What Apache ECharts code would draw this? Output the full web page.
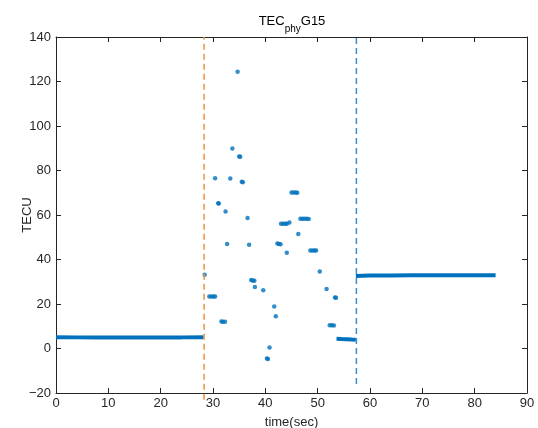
<!DOCTYPE html>
<html>
<head>
<meta charset="utf-8">
<script src="https://cdn.jsdelivr.net/npm/echarts@6/dist/echarts.min.js"></script>
<style>html,body{margin:0;padding:0;background:#fff;}#c{width:538px;height:428px;}</style>
</head>
<body>
<div id="c"></div>
<script>
// x ticks / y ticks
var xTicks = [0, 10, 20, 30, 40, 50, 60, 70, 80, 90];
var yTicks = [-20, 0, 20, 40, 60, 80, 100, 120, 140];

// Baseline before first event (time, TECU)
var preT = [0, 4, 8, 12, 16, 20, 24, 28.2];
var preV = [5.1, 5.0, 4.9, 4.9, 4.9, 5.0, 5.0, 5.1];

// Baseline after second event
var postT = [57.3, 60, 64, 68, 72, 76, 80, 84.0];
var postV = [32.6, 32.8, 32.8, 32.9, 32.9, 32.9, 32.9, 32.9];

// Short steady run just before second event
var runT = [53.6, 54.5, 55.5, 56.5, 57.3];
var runV = [4.4, 4.3, 4.2, 4.0, 3.9];

// Scattered samples between the two events
var scatT = [28.4, 29.3, 29.7, 30.1, 30.4, 30.4, 31.0, 31.1, 31.6, 31.9, 32.3, 32.4, 32.7,
             33.3, 33.7, 34.7, 35.0, 35.2, 35.5, 35.7, 36.6, 36.9, 37.3, 37.6, 37.9, 38.0,
             39.6, 40.3, 40.5, 40.8, 41.7, 42.0, 42.3, 42.6, 42.9, 43.0, 43.4, 43.8, 44.1,
             44.1, 44.6, 45.0, 45.4, 45.8, 46.1, 46.3, 46.7, 47.1, 47.5, 47.9, 48.3, 48.6,
             49.0, 49.4, 49.7, 50.4, 51.7, 52.3, 52.7, 53.1, 53.3, 53.5];
var scatV = [33.1, 23.4, 23.4, 23.4, 23.4, 76.5, 65.3, 65.2, 12.1, 12.0, 12.0, 61.6, 47.0,
             76.4, 89.9, 124.4, 86.3, 86.2, 74.9, 74.7, 58.7, 46.6, 30.8, 30.6, 30.4, 27.6,
             26.2, -4.5, -4.7, 0.4, 18.9, 14.5, 47.2, 47.0, 46.8, 56.1, 56.1, 56.1, 56.1,
             43.0, 56.6, 70.1, 70.1, 70.1, 70.0, 51.5, 58.3, 58.3, 58.3, 58.3, 58.2, 44.0,
             44.0, 44.0, 44.0, 34.6, 26.7, 10.5, 10.4, 10.3, 22.9, 22.8];

// Event markers (dashed vertical lines)
var event1 = {t: 28.3, from: -23, to: 140};
var event2 = {t: 57.4, from: -16, to: 140};

var blue = '#0072BD';
var txt = '#262626';
var font = 'Liberation Sans';

function pairs(a, b) { return a.map(function (v, i) { return [v, b[i]]; }); }

function axisCommon() {
  return {
    type: 'value',
    axisLine: {show: true, onZero: false, lineStyle: {color: txt, width: 1}},
    axisTick: {show: true, inside: true, length: 5, lineStyle: {color: txt}},
    splitLine: {show: false}
  };
}

var chart = echarts.init(document.getElementById('c'));
chart.setOption({
  animation: false,
  backgroundColor: '#fff',
  title: {
    text: '{a|TEC}{s|phy}{a|G15}',
    left: 287, top: 10, textAlign: 'center',
    textStyle: {
      fontWeight: 'normal',
      rich: {
        a: {fontFamily: font, fontSize: 13, fontWeight: 'normal', color: '#000', lineHeight: 16, verticalAlign: 'top'},
        s: {fontFamily: font, fontSize: 10, fontWeight: 'normal', color: '#000', lineHeight: 16, padding: [9, 0, 0, 0], verticalAlign: 'top'}
      }
    }
  },
  grid: {left: 56, right: 11, top: 37, bottom: 35, outerBoundsMode: 'none', containLabel: false},
  xAxis: [
    Object.assign(axisCommon(), {
      min: 0, max: 90, interval: 10, position: 'bottom',
      name: 'time(sec)', nameLocation: 'middle', nameGap: 23, nameMoveOverlap: false,
      nameTextStyle: {fontFamily: font, fontSize: 13, color: txt},
      axisLabel: {fontFamily: font, fontSize: 13, color: txt, margin: 4,
        formatter: function (v) { return xTicks.indexOf(v) >= 0 ? String(v) : ''; }}
    }),
    Object.assign(axisCommon(), {
      min: 0, max: 90, interval: 10, position: 'top', axisLabel: {show: false}
    })
  ],
  yAxis: [
    Object.assign(axisCommon(), {
      min: -20, max: 140, interval: 20, position: 'left',
      name: 'TECU', nameLocation: 'middle', nameGap: 22, nameRotate: 90, nameMoveOverlap: false,
      nameTextStyle: {fontFamily: font, fontSize: 13, color: txt},
      axisLabel: {fontFamily: font, fontSize: 13, color: txt, margin: 5,
        formatter: function (v) { return yTicks.indexOf(v) >= 0 ? (v < 0 ? '\u2212' + (-v) : String(v)) : ''; }}
    }),
    Object.assign(axisCommon(), {
      min: -20, max: 140, interval: 20, position: 'right', axisLabel: {show: false}
    })
  ],
  series: [
    {type: 'line', data: pairs(preT, preV), showSymbol: false, symbol: 'none',
      lineStyle: {color: blue, width: 4}, z: 3},
    {type: 'line', data: pairs(postT, postV), showSymbol: false, symbol: 'none',
      lineStyle: {color: blue, width: 4}, z: 3},
    {type: 'line', data: pairs(runT, runV), showSymbol: false, symbol: 'none',
      lineStyle: {color: blue, width: 4}, z: 3},
    {type: 'scatter', data: pairs(scatT, scatV), symbol: 'circle', symbolSize: 4.5,
      itemStyle: {color: blue}, z: 3},
    {type: 'line', data: [[event1.t, event1.from], [event1.t, event1.to]], symbol: 'none', clip: false,
      lineStyle: {color: '#F0903C', width: 1.5, type: [6, 4]}, z: 4},
    {type: 'line', data: [[event2.t, event2.from], [event2.t, event2.to]], symbol: 'none', clip: false,
      lineStyle: {color: '#3A8FD0', width: 1.5, type: [6, 4]}, z: 4}
  ]
});
</script>
</body>
</html>
